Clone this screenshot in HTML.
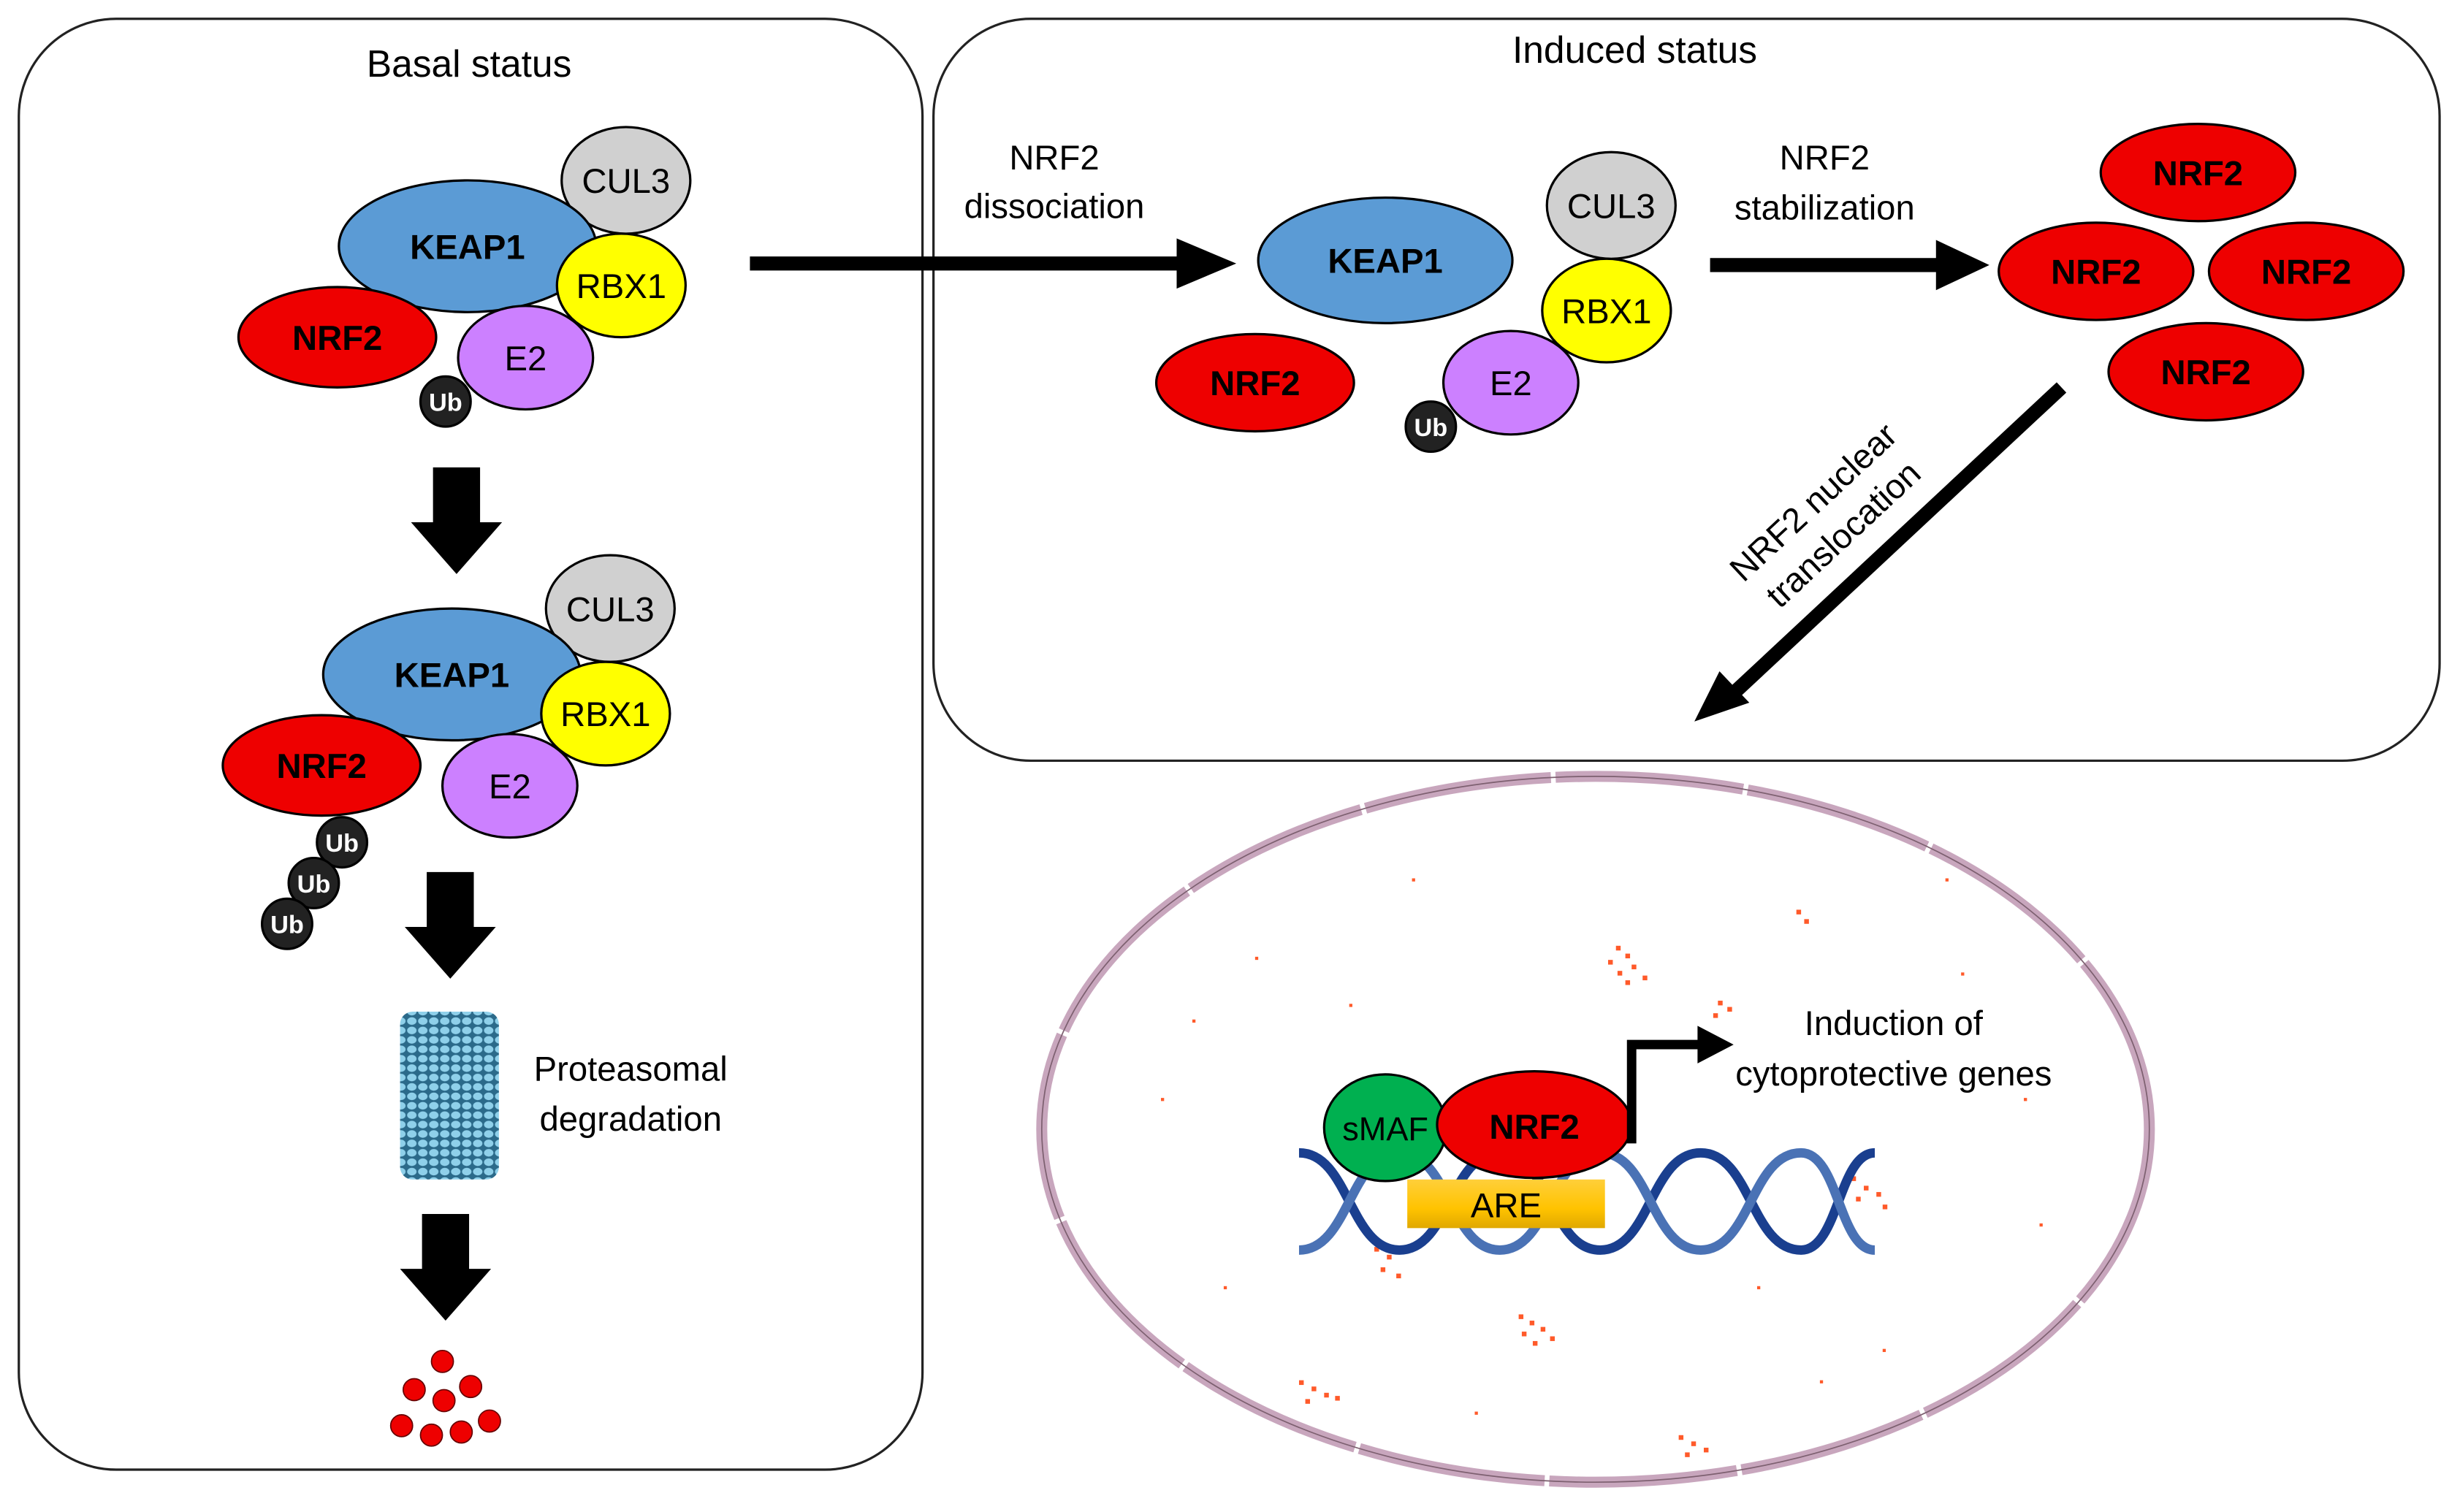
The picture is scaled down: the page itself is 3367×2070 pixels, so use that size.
<!DOCTYPE html>
<html><head><meta charset="utf-8"><style>
html,body{margin:0;padding:0;background:#fff}
svg{display:block}
text{font-family:"Liberation Sans",sans-serif}
.b{font-weight:bold}
</style></head><body>
<svg width="3367" height="2070" viewBox="0 0 1568 964" preserveAspectRatio="none" xmlns="http://www.w3.org/2000/svg">
<defs>
<pattern id="pr" width="7" height="6" patternUnits="userSpaceOnUse">
<rect width="7" height="6" fill="#2b6a8a"/>
<ellipse cx="3.5" cy="3" rx="3" ry="2.4" fill="#8fd0ea"/>
</pattern>
<linearGradient id="are" x1="0" y1="0" x2="0" y2="1"><stop offset="0" stop-color="#ffcf3a"/><stop offset="0.6" stop-color="#ffc300"/><stop offset="1" stop-color="#e0a800"/></linearGradient>
<marker id="ah" markerWidth="4" markerHeight="4" refX="2" refY="2" orient="auto" markerUnits="strokeWidth"><path d="M0,0 L4,2 L0,4z" fill="#000"/></marker>
</defs>
<g fill="none" stroke="#222" stroke-width="1.5">
<rect x="12" y="12" width="576" height="925" rx="62"/>
<rect x="595" y="12" width="960" height="473" rx="62"/>
</g>
<text x="299" y="49" font-size="24" text-anchor="middle">Basal status</text>
<text x="1042" y="40" font-size="24" text-anchor="middle">Induced status</text>

<g stroke="#000" stroke-width="1.5">
<!-- complex 1 -->
<ellipse cx="399" cy="115" rx="41" ry="34" fill="#d0d0d0"/>
<ellipse cx="298" cy="157" rx="82" ry="42" fill="#5b9bd5"/>
<ellipse cx="396" cy="182" rx="41" ry="33" fill="#ffff00"/>
<ellipse cx="335" cy="228" rx="43" ry="33" fill="#cc80ff"/>
<ellipse cx="215" cy="215" rx="63" ry="32" fill="#ee0000"/>
<circle cx="284" cy="256" r="16" fill="#222"/>
<!-- complex 2 -->
<ellipse cx="389" cy="388" rx="41" ry="34" fill="#d0d0d0"/>
<ellipse cx="288" cy="430" rx="82" ry="42" fill="#5b9bd5"/>
<ellipse cx="386" cy="455" rx="41" ry="33" fill="#ffff00"/>
<ellipse cx="325" cy="501" rx="43" ry="33" fill="#cc80ff"/>
<ellipse cx="205" cy="488" rx="63" ry="32" fill="#ee0000"/>
<circle cx="218" cy="537" r="16" fill="#222"/>
<circle cx="200" cy="563" r="16" fill="#222"/>
<circle cx="183" cy="589" r="16" fill="#222"/>
<!-- induced complex -->
<ellipse cx="1027" cy="131" rx="41" ry="34" fill="#d0d0d0"/>
<ellipse cx="883" cy="166" rx="81" ry="40" fill="#5b9bd5"/>
<ellipse cx="1024" cy="198" rx="41" ry="33" fill="#ffff00"/>
<ellipse cx="963" cy="244" rx="43" ry="33" fill="#cc80ff"/>
<ellipse cx="800" cy="244" rx="63" ry="31" fill="#ee0000"/>
<circle cx="912" cy="272" r="16" fill="#222"/>
<!-- NRF2 cluster -->
<ellipse cx="1401" cy="110" rx="62" ry="31" fill="#ee0000"/>
<ellipse cx="1336" cy="173" rx="62" ry="31" fill="#ee0000"/>
<ellipse cx="1470" cy="173" rx="62" ry="31" fill="#ee0000"/>
<ellipse cx="1406" cy="237" rx="62" ry="31" fill="#ee0000"/>
</g>
<g font-size="22" text-anchor="middle">
<text x="399" y="123">CUL3</text><text x="298" y="165" class="b">KEAP1</text><text x="396" y="190">RBX1</text><text x="335" y="236">E2</text><text x="215" y="223" class="b">NRF2</text>
<text x="389" y="396">CUL3</text><text x="288" y="438" class="b">KEAP1</text><text x="386" y="463">RBX1</text><text x="325" y="509">E2</text><text x="205" y="496" class="b">NRF2</text>
<text x="1027" y="139">CUL3</text><text x="883" y="174" class="b">KEAP1</text><text x="1024" y="206">RBX1</text><text x="963" y="252">E2</text><text x="800" y="252" class="b">NRF2</text>
<text x="1401" y="118" class="b">NRF2</text><text x="1336" y="181" class="b">NRF2</text><text x="1470" y="181" class="b">NRF2</text><text x="1406" y="245" class="b">NRF2</text>
</g>
<g font-size="16" fill="#fff" text-anchor="middle" class="b">
<text x="284" y="262" class="b">Ub</text><text x="218" y="543" class="b">Ub</text><text x="200" y="569" class="b">Ub</text><text x="183" y="595" class="b">Ub</text><text x="912" y="278" class="b">Ub</text>
</g>

<!-- down block arrows -->
<g fill="#000">
<path d="M276,298 h30 v35 h14 l-29,33 l-29,-33 h14z"/>
<path d="M272,556 h30 v35 h14 l-29,33 l-29,-33 h14z"/>
<path d="M269,774 h30 v35 h14 l-29,33 l-29,-33 h14z"/>
</g>
<!-- proteasome -->
<rect x="255" y="645" width="63" height="107" rx="8" fill="url(#pr)"/>
<text x="402" y="689" font-size="22" text-anchor="middle">Proteasomal</text>
<text x="402" y="721" font-size="22" text-anchor="middle">degradation</text>
<!-- red dots -->
<g fill="#ee0000" stroke="#600" stroke-width="0.8">
<circle cx="282" cy="868" r="7"/><circle cx="264" cy="886" r="7"/><circle cx="300" cy="884" r="7"/><circle cx="283" cy="893" r="7"/>
<circle cx="256" cy="909" r="7"/><circle cx="275" cy="915" r="7"/><circle cx="294" cy="913" r="7"/><circle cx="312" cy="906" r="7"/>
</g>

<!-- arrows -->
<g stroke="#000" stroke-width="9">
<line x1="478" y1="168" x2="755" y2="168"/>
<line x1="1090" y1="169" x2="1240" y2="169"/>
<line x1="1314" y1="247" x2="1105" y2="442"/>
</g>
<path d="M750,152 L788,168 L750,184z"/>
<path d="M1234,153 L1268,169 L1234,185z"/>
<path d="M1096,428 L1080,460 L1115,448z"/>
<text x="672" y="108" font-size="22" text-anchor="middle">NRF2</text>
<text x="672" y="139" font-size="22" text-anchor="middle">dissociation</text>
<text x="1163" y="108" font-size="22" text-anchor="middle">NRF2</text>
<text x="1163" y="140" font-size="22" text-anchor="middle">stabilization</text>
<g transform="translate(1165,330) rotate(-43)" font-size="22" text-anchor="middle">
<text x="0" y="-6">NRF2 nuclear</text><text x="0" y="22">translocation</text>
</g>

<!-- nucleus -->
<ellipse cx="1017" cy="720" rx="353" ry="225" fill="none" stroke="#c8a6bd" stroke-width="7" stroke-dasharray="120 3"/>
<ellipse cx="1017" cy="720" rx="353" ry="225" fill="none" stroke="#7d6070" stroke-width="0.8"/>
<!-- speckles -->
<g fill="#ff5a2a">
<rect x="1030" y="603" width="3" height="3"/><rect x="1036" y="608" width="3" height="3"/><rect x="1025" y="612" width="3" height="3"/><rect x="1040" y="615" width="3" height="3"/><rect x="1031" y="619" width="3" height="3"/><rect x="1047" y="622" width="3" height="3"/><rect x="1036" y="625" width="3" height="3"/>
<rect x="1095" y="638" width="3" height="3"/><rect x="1101" y="642" width="3" height="3"/><rect x="1092" y="646" width="3" height="3"/>
<rect x="968" y="838" width="3" height="3"/><rect x="975" y="842" width="3" height="3"/><rect x="982" y="846" width="3" height="3"/><rect x="970" y="849" width="3" height="3"/><rect x="988" y="852" width="3" height="3"/><rect x="977" y="855" width="3" height="3"/>
<rect x="828" y="880" width="3" height="3"/><rect x="836" y="884" width="3" height="3"/><rect x="844" y="888" width="3" height="3"/><rect x="832" y="892" width="3" height="3"/><rect x="851" y="890" width="3" height="3"/>
<rect x="1070" y="915" width="3" height="3"/><rect x="1078" y="919" width="3" height="3"/><rect x="1086" y="923" width="3" height="3"/><rect x="1074" y="926" width="3" height="3"/>
<rect x="1180" y="750" width="3" height="3"/><rect x="1188" y="756" width="3" height="3"/><rect x="1196" y="760" width="3" height="3"/><rect x="1183" y="763" width="3" height="3"/><rect x="1200" y="768" width="3" height="3"/>
<rect x="876" y="795" width="3" height="3"/><rect x="884" y="800" width="3" height="3"/><rect x="880" y="808" width="3" height="3"/><rect x="890" y="812" width="3" height="3"/>
<rect x="1145" y="580" width="3" height="3"/><rect x="1150" y="586" width="3" height="3"/><rect x="740" y="700" width="2" height="2"/><rect x="760" y="650" width="2" height="2"/><rect x="800" y="610" width="2" height="2"/><rect x="900" y="560" width="2" height="2"/><rect x="1250" y="620" width="2" height="2"/><rect x="1290" y="700" width="2" height="2"/><rect x="1300" y="780" width="2" height="2"/><rect x="780" y="820" width="2" height="2"/><rect x="1200" y="860" width="2" height="2"/><rect x="940" y="900" width="2" height="2"/><rect x="1120" y="820" width="2" height="2"/><rect x="1240" y="560" width="2" height="2"/><rect x="860" y="640" width="2" height="2"/><rect x="1160" y="880" width="2" height="2"/>
</g>
<!-- DNA -->
<g fill="none" stroke-width="6">
<path d="M828,735 C860,735 860,797 892,797 C924,797 924,735 956,735 C988,735 988,797 1020,797 C1052,797 1052,735 1084,735 C1116,735 1116,797 1148,797 C1172,797 1172,735 1195,735" stroke="#1a3f8f"/>
<path d="M828,797 C860,797 860,735 892,735 C924,735 924,797 956,797 C988,797 988,735 1020,735 C1052,735 1052,797 1084,797 C1116,797 1116,735 1148,735 C1172,735 1172,797 1195,797" stroke="#4a72b5"/>
</g>
<rect x="897" y="752" width="126" height="31" fill="url(#are)"/>
<text x="960" y="776" font-size="22" text-anchor="middle">ARE</text>
<ellipse cx="883" cy="719" rx="39" ry="34" fill="#00b050" stroke="#000" stroke-width="1.5"/>
<ellipse cx="978" cy="717" rx="62" ry="34" fill="#ee0000" stroke="#000" stroke-width="1.5"/>
<text x="883" y="727" font-size="21" text-anchor="middle">sMAF</text>
<text x="978" y="726" font-size="22" text-anchor="middle" class="b">NRF2</text>
<path d="M1040,729 V666 H1085" fill="none" stroke="#000" stroke-width="6"/>
<path d="M1082,654 L1105,666 L1082,678z"/>
<text x="1207" y="660" font-size="22" text-anchor="middle">Induction of</text>
<text x="1207" y="692" font-size="22" text-anchor="middle">cytoprotective genes</text>
</svg>
</body></html>
